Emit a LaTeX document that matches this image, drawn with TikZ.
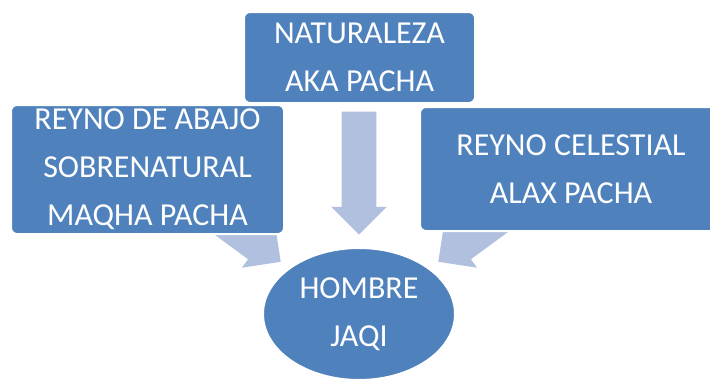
\documentclass[tikz,border=0pt]{standalone}
\usepackage{fontspec}
\setmainfont{Carlito}
\usetikzlibrary{shapes,arrows,positioning}
\definecolor{boxblue}{RGB}{79,129,189}
\definecolor{arrowblue}{RGB}{176,192,222}

\begin{document}
\begin{tikzpicture}[x=0.75pt,y=-0.75pt]
\tikzstyle{reino}=[draw=white,line width=1.5pt,fill=boxblue,rounded corners=4.5pt,text=white,align=center,font=\fontsize{24}{36}\selectfont,inner sep=0pt]
\tikzstyle{flecha}=[single arrow,fill=arrowblue,draw=none,minimum height=92.25pt,single arrow head extend=7.875pt,single arrow tip angle=90,inner xsep=0pt,inner ysep=12.75pt,anchor=tip]

\useasboundingbox (0,0) rectangle (710,382);
\clip (0,0) rectangle (710,382);

% flechas, bajo las cajas
\node [flecha] (fD) at (359,235) [rotate=-90] {};
\node [flecha] (fL) at (281,262) [rotate=-36.3] {};
\node [flecha] (fR) at (438,262) [rotate=216.3] {};

\node [reino] (aka) at (359.5,57.5) [minimum width=173.25pt, minimum height=68.25pt] {NATURALEZA\\AKA PACHA};
\node [reino] (maqha) at (147.5,169.5) [minimum width=204.75pt, minimum height=96.75pt] {REYNO DE ABAJO\\SOBRENATURAL\\MAQHA PACHA};
\node [reino] (alax) at (571,169) [minimum width=226.5pt, minimum height=93pt] {REYNO CELESTIAL\\ALAX PACHA};

\node [reino,ellipse,rounded corners=0pt] (jaqi) at (359,314) [minimum width=144pt, minimum height=99pt] {HOMBRE\\JAQI};
\end{tikzpicture}
\end{document}
